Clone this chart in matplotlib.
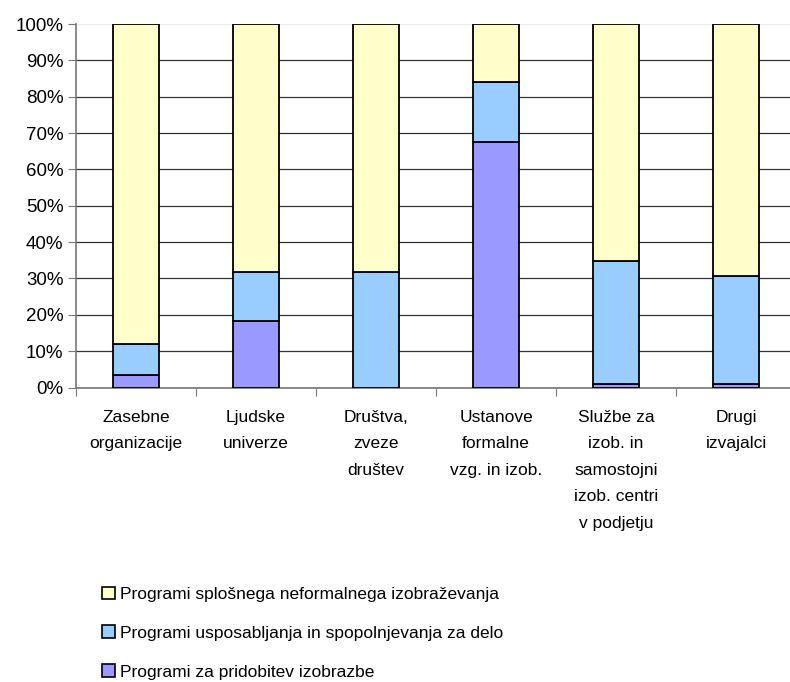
import numpy as np
import matplotlib
matplotlib.use('Agg')
import matplotlib.pyplot as plt
from matplotlib.patches import Patch

plt.rcParams['font.family'] = ['Liberation Sans', 'DejaVu Sans']

categories = ['Zasebne\norganizacije', 'Ljudske\nuniverze', 'Društva,\nzveze\ndruštev',
              'Ustanove\nformalne\nvzg. in izob.', 'Službe za\nizob. in\nsamostojni\nizob. centri\nv podjetju',
              'Drugi\nizvajalci']
# shares in percent
pridobitev = [3.4, 18.4, 0.0, 67.6, 1.0, 1.0]
usposabljanje = [8.6, 13.5, 31.9, 16.5, 33.8, 29.7]
splosno = [88.0, 68.1, 68.1, 15.9, 65.2, 69.3]

labels = ['Programi splošnega neformalnega izobraževanja',
          'Programi usposabljanja in spopolnjevanja za delo',
          'Programi za pridobitev izobrazbe']
colors = ['#FFFFCC', '#99CCFF', '#9999FF']

fig = plt.figure(figsize=(7.9, 6.82), dpi=100)
ax = fig.add_axes([0.0962, 0.4318, 0.9114, 0.533])

x = np.arange(len(categories)) + 0.5
w = 0.39
p = np.array(pridobitev)
u = np.array(usposabljanje)
s = np.array(splosno)
ax.bar(x, p, w, color=colors[2], edgecolor='black', linewidth=1.3, zorder=3)
ax.bar(x, u, w, bottom=p, color=colors[1], edgecolor='black', linewidth=1.3, zorder=3)
ax.bar(x, s, w, bottom=p + u, color=colors[0], edgecolor='black', linewidth=1.3, zorder=3)

ax.set_xlim(0, len(categories))
ax.set_ylim(0, 100)
ax.set_yticks(range(0, 101, 10))
ax.set_yticklabels([f'{v}%' for v in range(0, 101, 10)], fontsize=13.5)
ax.yaxis.grid(True, color='#333333', linewidth=0.9, zorder=0)
ax.get_ygridlines()[-1].set_color('#eeeeee')

ax.set_xticks(range(len(categories) + 1))
ax.set_xticklabels([])
ax.set_xticks(x, minor=True)
ax.set_xticklabels(categories, minor=True, fontsize=12.5, linespacing=1.96, va='top')
ax.tick_params(axis='x', which='minor', length=0, pad=16)
ax.tick_params(axis='x', which='major', length=6, color='#777777')
ax.tick_params(axis='y', length=6, color='#777777', pad=3)

for sp in ['top', 'right']:
    ax.spines[sp].set_visible(False)
for sp in ['left', 'bottom']:
    ax.spines[sp].set_color('#777777')
    ax.spines[sp].set_linewidth(1.2)

handles = [Patch(facecolor=c, edgecolor='black', linewidth=1.2) for c in colors]
fig.legend(handles, labels, loc='upper left', bbox_to_anchor=(0.12, 0.15),
           frameon=False, fontsize=12.5, handlelength=0.75, handleheight=0.75,
           handletextpad=0.3, labelspacing=1.35, borderaxespad=0)

fig.savefig('out.png', dpi=100)
